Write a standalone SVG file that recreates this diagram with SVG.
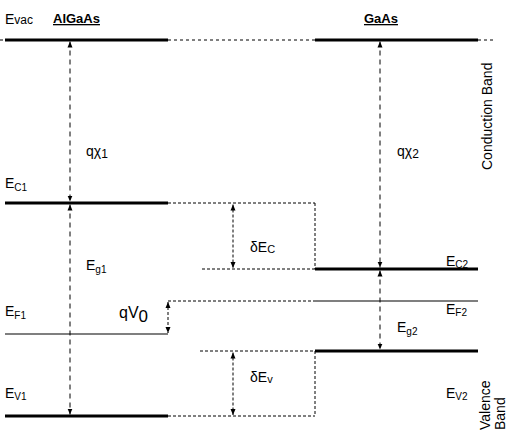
<svg xmlns="http://www.w3.org/2000/svg" width="510" height="432" viewBox="0 0 510 432">
<style>
text{font-family:"Liberation Sans",Arial,sans-serif;fill:#000}
.lbl{font-size:14px}
.sub{font-size:10px}
.hdr{font-size:13px;font-weight:bold;text-decoration:underline}
.thick{stroke:#000;stroke-width:3;fill:none}
.thin{stroke:#000;stroke-width:1.2;fill:none}
.dot{stroke:#000;stroke-width:1;stroke-dasharray:3,3;fill:none}
.dash{stroke:#000;stroke-width:1;stroke-dasharray:3,2;fill:none}
.arr{stroke:#000;stroke-width:1;stroke-dasharray:5,4;fill:none;marker-start:url(#ah);marker-end:url(#ah)}
.arr2{stroke:#000;stroke-width:1;stroke-dasharray:3,2;fill:none;marker-start:url(#ah);marker-end:url(#ah)}
</style>
<defs>
<marker id="ah" viewBox="0 0 6 6" refX="6" refY="3" markerWidth="6" markerHeight="6" orient="auto-start-reverse" markerUnits="userSpaceOnUse">
<path d="M0,0.5 L6,3 L0,5.5 Z" fill="#000"/>
</marker>
</defs>
<rect width="510" height="432" fill="#fff"/>
<g id="levels">
<g id="evac"><line class="dot" x1="0" y1="40" x2="5" y2="40"/><line class="thick" x1="5" y1="40" x2="168" y2="40"/><line class="dot" x1="168" y1="40" x2="315" y2="40"/><line class="thick" x1="315" y1="40" x2="478" y2="40"/><line class="dot" x1="478" y1="40" x2="496" y2="40"/></g>
<g id="ec1"><line class="thick" x1="5" y1="203" x2="168" y2="203"/></g>
<g id="ec2"><line class="thick" x1="315" y1="269" x2="478" y2="269"/></g>
<g id="ef1"><line class="thin" x1="5" y1="334" x2="168" y2="334"/></g>
<g id="ef2"><line class="thin" x1="315" y1="301" x2="478" y2="301"/></g>
<g id="ev1"><line class="thick" x1="5" y1="416" x2="168" y2="416"/></g>
<g id="ev2"><line class="thick" x1="315" y1="351" x2="478" y2="351"/></g>
</g>
<g id="connectors">
<line class="dash" x1="168" y1="203" x2="315" y2="203"/>
<line class="dash" x1="315" y1="203" x2="315" y2="269"/>
<line class="dash" x1="202" y1="269" x2="315" y2="269"/>
<line class="dash" x1="168" y1="301" x2="315" y2="301"/>
<line class="dash" x1="200" y1="351" x2="315" y2="351"/>
<line class="dash" x1="315" y1="351" x2="315" y2="416"/>
<line class="dash" x1="168" y1="416" x2="315" y2="416"/>
<line class="arr" x1="70" y1="41.5" x2="70" y2="201.5"/>
<line class="arr" x1="70" y1="204.5" x2="70" y2="414.5"/>
<line class="arr" x1="380" y1="41.5" x2="380" y2="267.5"/>
<line class="arr" x1="380" y1="270.5" x2="380" y2="349.5"/>
<line class="arr2" x1="233" y1="204.5" x2="233" y2="268"/>
<line class="arr2" x1="233" y1="352.5" x2="233" y2="415"/>
<line class="arr2" x1="168" y1="302" x2="168" y2="333"/>
</g>
<g id="labels">
<text class="lbl" x="5" y="24">E<tspan font-size="12">vac</tspan></text>
<text class="hdr" x="53" y="23">AlGaAs</text>
<text class="hdr" x="364" y="23">GaAs</text>
<text class="lbl" transform="translate(492,170) rotate(-90)">Conduction Band</text>
<text class="lbl" transform="translate(490,430) rotate(-90)">Valence</text>
<text class="lbl" transform="translate(505,430) rotate(-90)">Band</text>
<text class="lbl" x="86" y="156">qχ<tspan font-size="12" dy="2">1</tspan></text>
<text class="lbl" x="397" y="156">qχ<tspan font-size="12" dy="2">2</tspan></text>
<text class="lbl" x="5" y="188">E<tspan class="sub" dy="3">C1</tspan></text>
<text class="lbl" x="86" y="270">E<tspan class="sub" dy="3">g1</tspan></text>
<text class="lbl" x="250" y="252">δE<tspan font-size="11" dy="1">C</tspan></text>
<text class="lbl" x="446" y="266">E<tspan class="sub" dy="2">C2</tspan></text>
<text class="lbl" x="5" y="316">E<tspan class="sub" dy="3">F1</tspan></text>
<text class="lbl" x="446" y="314">E<tspan class="sub" dy="2">F2</tspan></text>
<text x="119" y="318" font-size="16">qV<tspan font-size="17" dy="4">0</tspan></text>
<text class="lbl" x="397" y="332">E<tspan class="sub" dy="3">g2</tspan></text>
<text class="lbl" x="250" y="382">δE<tspan font-size="11" dy="1">v</tspan></text>
<text class="lbl" x="5" y="398">E<tspan class="sub" dy="2">V1</tspan></text>
<text class="lbl" x="446" y="398">E<tspan class="sub" dy="2">V2</tspan></text>
</g>
</svg>
